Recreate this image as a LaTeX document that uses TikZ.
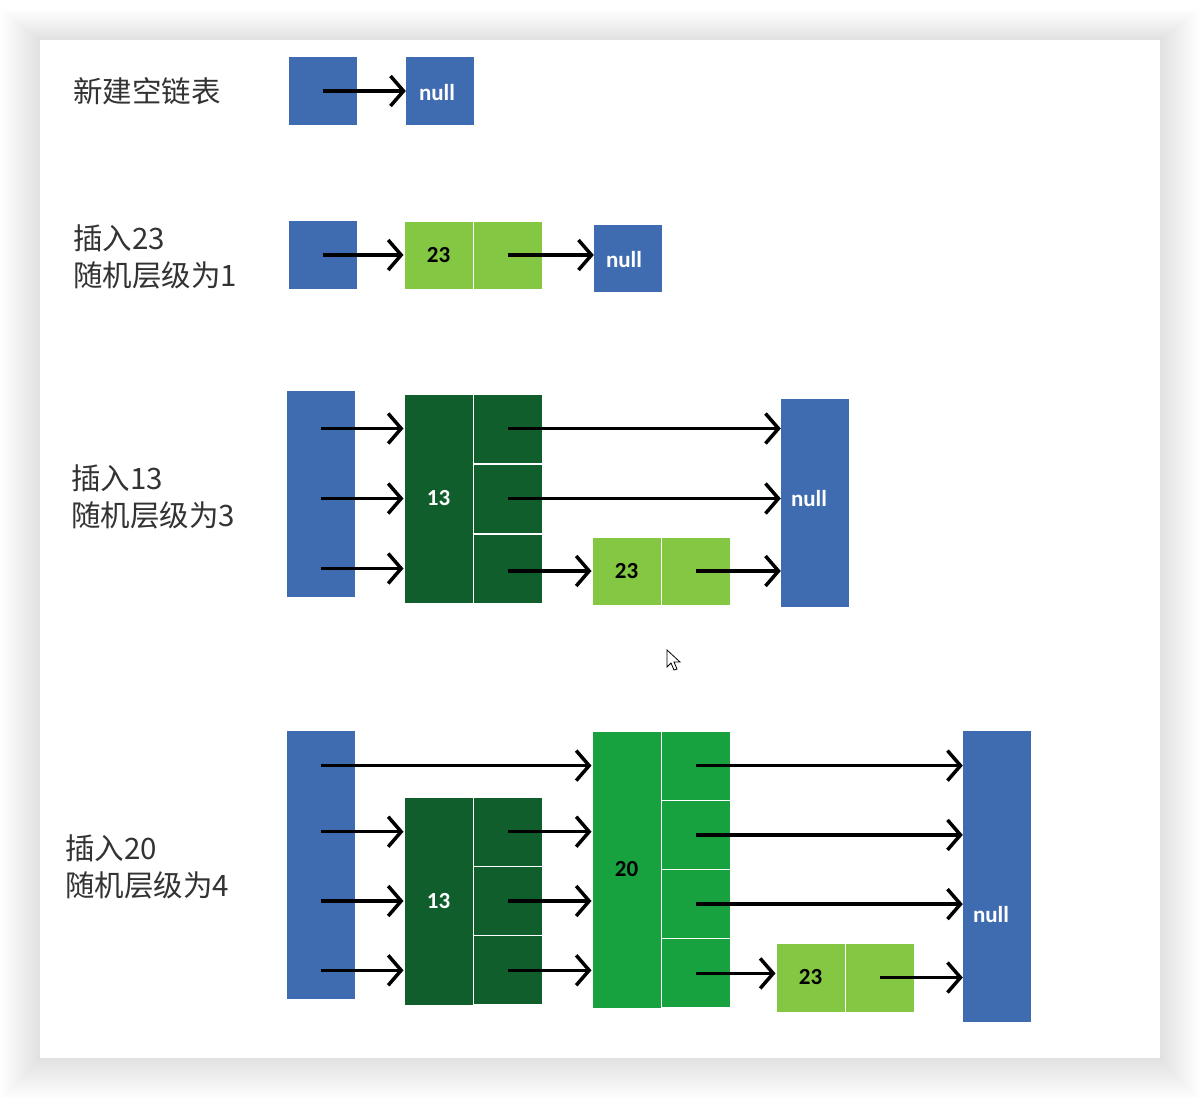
\documentclass[tikz,border=0pt]{standalone}
\usepackage{fontspec}
\setmainfont{Carlito}
\newfontfamily\cjkfont{Noto Sans CJK SC}
\usetikzlibrary{arrows.meta}
\definecolor{listblue}{HTML}{3F6CB1}
\definecolor{lightgreen}{HTML}{84C743}
\definecolor{darkgreen}{HTML}{0F5E2C}
\definecolor{midgreen}{HTML}{17A23F}

\tikzset{
  blk/.style={rectangle, inner sep=0pt, minimum width=68pt, fill=listblue},
  nulltext/.style={inner sep=0pt, text=white, font=\bfseries\fontsize{23}{23}\selectfont},
  cell/.style={rectangle, inner sep=0pt, minimum width=69pt, minimum height=69pt,
    draw=white, line width=1pt, font=\bfseries\fontsize{23}{23}\selectfont},
  ptr/.style={-{Straight Barb[length=13pt,width=30pt,line width=3.5pt]},
    line width=3.5pt, black},
  caption/.style={anchor=west, align=left, text=black!80, inner sep=0pt,
    font=\cjkfont\fontsize{29.5}{37}\selectfont},
}

\begin{document}
\begin{tikzpicture}[x=1pt, y=-1pt]
\useasboundingbox (0,0) rectangle (1200,1098);
% card with soft shadow
\foreach \i in {1,...,30}
  \fill[black, opacity=0.0022] (40-1.3*\i,40-1*\i) rectangle (1160+1.3*\i,1058+1.4*\i);
\fill[white] (40,40) rectangle (1160,1058);

% empty list
\node[caption] (t1) at (73,91) {新建空链表};
\node[blk, minimum height=68pt] (h1) at (322.5,91) {};
\node[blk, minimum height=68pt] (n1) at (440,91) {};
\node[nulltext] (n1t) at (437,93) {null};
\draw[ptr] (h1.center) -- (n1.west);

% insert 23, level 1
\node[caption] (t2) at (73,257) {插入23\\随机层级为1};
\node[blk, minimum height=68pt] (h2) at (322.5,255) {};
\node[cell, fill=lightgreen, minimum height=68pt] (a2) at (438.5,255) {23};
\node[cell, fill=lightgreen, minimum height=68pt] (b2) at (508,255) {};
\node[blk, minimum height=67pt] (n2) at (628,258.5) {};
\node[nulltext] (n2t) at (624,260) {null};
\draw[ptr] (h2.center) -- (a2.west);
\draw[ptr] (b2.center) -- (b2.center -| n2.west);

% insert 13, level 3
\node[caption] (t3) at (71,497) {插入13\\随机层级为3};
\node[blk, minimum height=206pt] (h3) at (321,494) {};
\node[cell, fill=darkgreen, text=white, minimum height=209pt] (k3) at (438.5,498.5) {13};
\foreach \c/\y in {a/428.5, b/498.5, c/568.5}
  \node[cell, fill=darkgreen] (r3\c) at (508,\y) {};
\node[blk, minimum height=208pt] (n3) at (815,503) {};
\node[nulltext] (n3t) at (809,499) {null};
\node[cell, fill=lightgreen, minimum height=68pt] (a3) at (626.5,571) {23};
\node[cell, fill=lightgreen, minimum height=68pt] (b3) at (696,571) {};
\foreach \c in {a,b,c}
  \draw[ptr] (h3.center |- r3\c) -- (k3.west |- r3\c);
\draw[ptr] (r3a.center) -- (r3a -| n3.west);
\draw[ptr] (r3b.center) -- (r3b -| n3.west);
\draw[ptr] (r3c.center |- a3) -- (a3.west);
\draw[ptr] (b3.center) -- (b3 -| n3.west);

% insert 20, level 4
\node[caption] (t4) at (65,867) {插入20\\随机层级为4};
\node[blk, minimum height=268pt] (h4) at (321,865) {};
\node[cell, fill=darkgreen, text=white, minimum height=208pt] (k4) at (438.5,901) {13};
\foreach \c/\y in {a/831.7, b/901, c/970.3}
  \node[cell, fill=darkgreen] (r4\c) at (508,\y) {};
\node[cell, fill=midgreen, minimum height=277pt] (m4) at (626.5,869.5) {20};
\foreach \c/\y in {a/765.6, b/834.9, c/904.1, d/973.4}
  \node[cell, fill=midgreen] (s4\c) at (696,\y) {};
\node[cell, fill=lightgreen] (a4) at (810.5,977.5) {23};
\node[cell, fill=lightgreen] (b4) at (879.5,977.5) {};
\node[blk, minimum height=291pt] (n4) at (997,876.5) {};
\node[nulltext] (n4t) at (991,915) {null};
\draw[ptr] (h4.center |- s4a) -- (m4.west |- s4a);
\foreach \c in {a,b,c}
  \draw[ptr] (h4.center |- r4\c) -- (k4.west |- r4\c);
\foreach \c in {a,b,c}
  \draw[ptr] (r4\c.center) -- (r4\c -| m4.west);
\foreach \c in {a,b,c}
  \draw[ptr] (s4\c.center) -- (s4\c -| n4.west);
\draw[ptr] (s4d.center) -- (s4d -| a4.west);
\draw[ptr] (b4.center) -- (b4 -| n4.west);

% mouse pointer
\draw[fill=white, line width=0.8pt, line join=miter]
  (667,650) -- (667,667) -- (671,663) -- (674,670) -- (677,669) -- (674,662) -- (680,662) -- cycle;
\end{tikzpicture}
\end{document}
